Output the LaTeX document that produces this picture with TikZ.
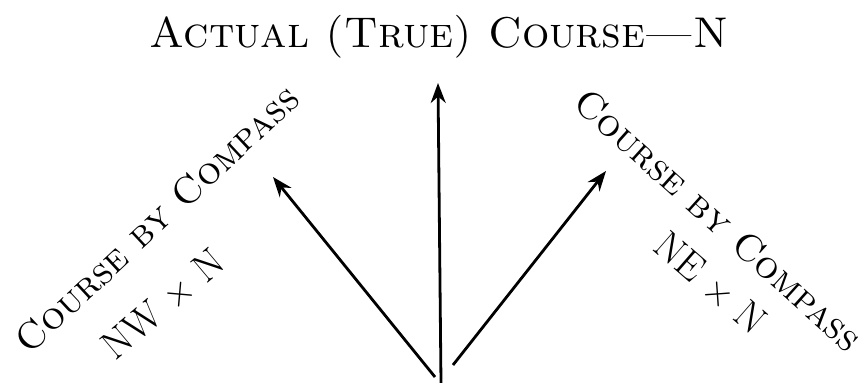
\documentclass[tikz,border=0pt]{standalone}
\usepackage{tikz}
\usetikzlibrary{arrows.meta}

\begin{document}
\begin{tikzpicture}[
  x=1pt, y=-1pt,
  heading/.style={font=\fontsize{43}{48}\selectfont\scshape, inner sep=0pt},
  bearing/.style={font=\fontsize{38}{44}\selectfont\scshape, inner sep=0pt},
  point/.style={font=\fontsize{40}{46}\selectfont, inner sep=0pt},
  arr/.style={-{Stealth[length=20pt, width=15pt]}, line width=2.8pt}
]
  \useasboundingbox (0,0) rectangle (868,383);

  \node[heading] (title) at (439,37) {Actual (True) Course---N};

  % ends of the three courses
  \coordinate (base) at (441,383);
  \coordinate (basel) at (435,377);
  \coordinate (baser) at (453,365);
  \coordinate (tipn) at (438,83);
  \coordinate (tipl) at (273,177);
  \coordinate (tipr) at (606,171);

  \draw[arr] (base) -- (tipn);
  \draw[arr] (basel) -- (tipl);
  \draw[arr] (baser) -- (tipr);

  \node[bearing, rotate=43] (leftlbl) at (157,219) {Course by Compass};
  \node[point, rotate=40] (leftpt) at (163,304) {NW \texttimes{} N};
  \node[bearing, rotate=-42] (rightlbl) at (718,220) {Course by Compass};
  \node[point, rotate=-41] (rightpt) at (711,283) {NE \texttimes{} N};
\end{tikzpicture}
\end{document}
